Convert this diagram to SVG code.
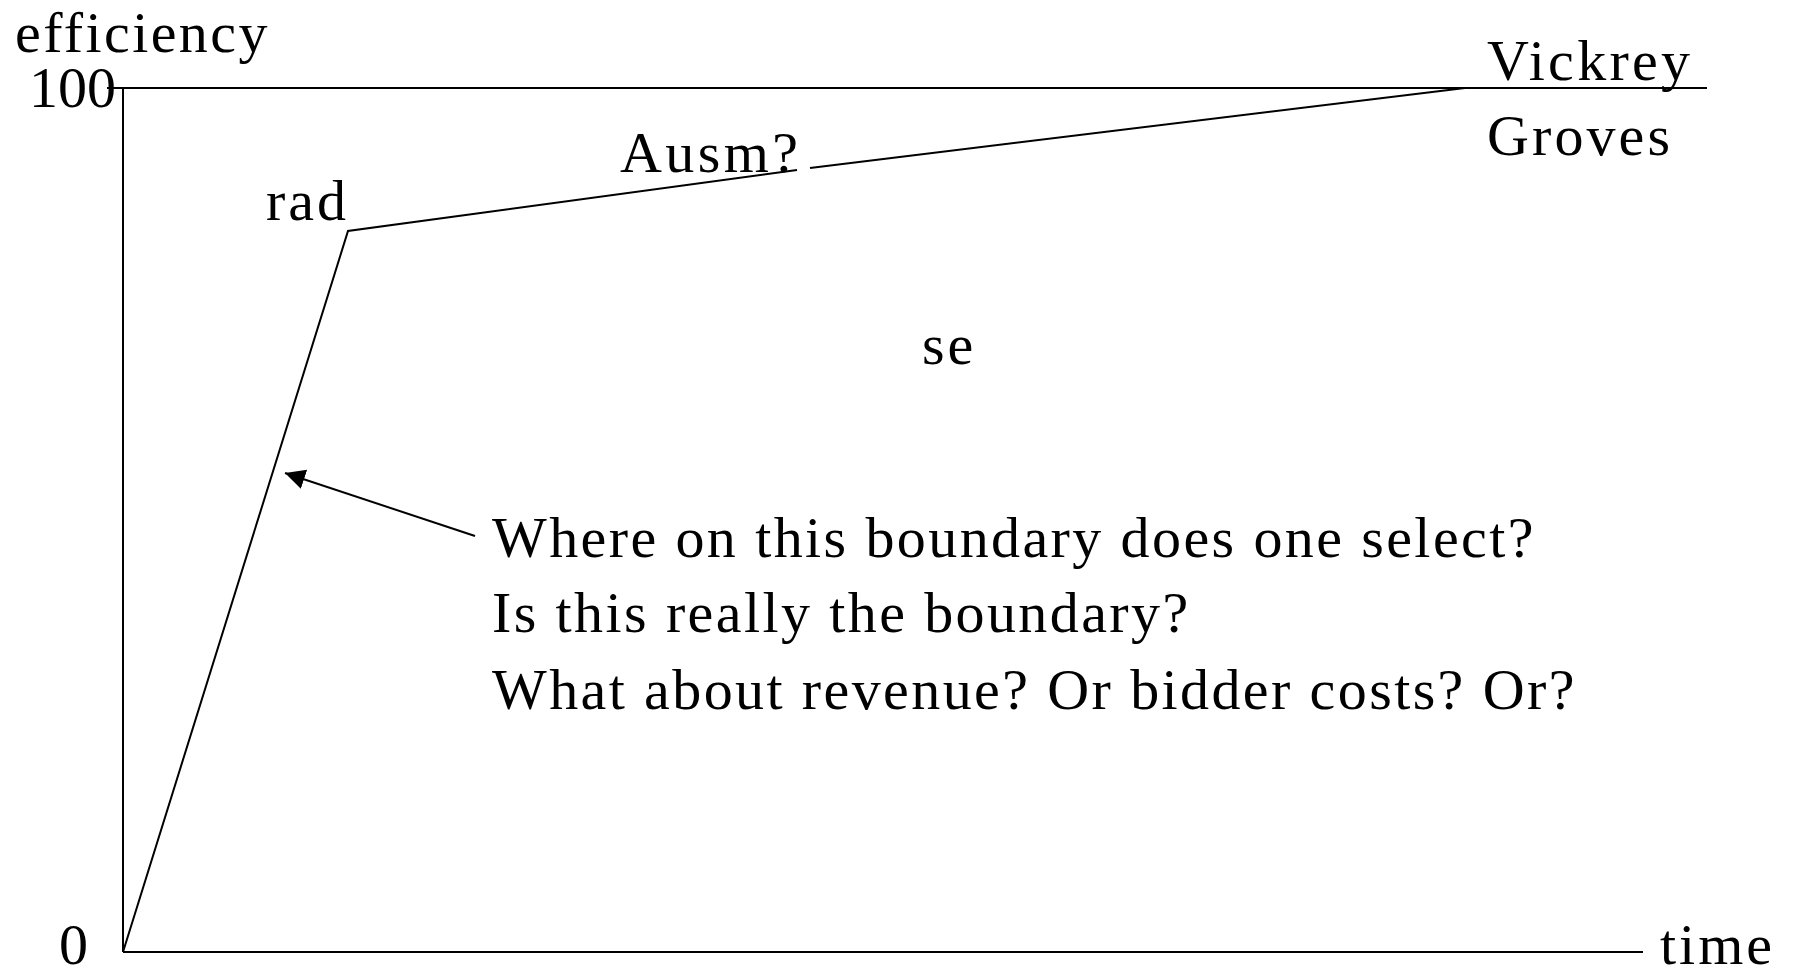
<svg xmlns="http://www.w3.org/2000/svg" width="1793" height="976" viewBox="0 0 1793 976">
<style>
.t{font-family:"Liberation Serif","Times New Roman",serif;font-size:58px;letter-spacing:3px;fill:#000}
.q{letter-spacing:2.4px}
.ln{stroke:#000;stroke-width:2;fill:none}
</style>
<defs>
<marker id="ah" markerUnits="userSpaceOnUse" markerWidth="24" markerHeight="22" refX="20" refY="10" orient="auto" viewBox="0 0 24 22">
<path d="M0,0 L20,10 L0,20 Z" fill="#000"/>
</marker>
</defs>
<rect width="1793" height="976" fill="#fff"/>
<g id="axes">
<line class="ln" x1="123" y1="88" x2="123" y2="952"/>
<line class="ln" x1="107" y1="88" x2="1707" y2="88"/>
<line class="ln" x1="123" y1="952" x2="1643" y2="952"/>
</g>
<g id="connectors">
<polyline class="ln" points="123,952 348,231 797,170"/>
<line class="ln" x1="810" y1="168" x2="1465" y2="88"/>
<line class="ln" x1="475" y1="536" x2="285" y2="473" marker-end="url(#ah)"/>
</g>
<g id="label-efficiency"><text class="t" x="15" y="52" style="letter-spacing:2.4px">efficiency</text></g>
<g id="label-100"><text class="t" x="29" y="107" style="letter-spacing:0">100</text></g>
<g id="label-0"><text class="t" x="59" y="964">0</text></g>
<g id="label-time"><text class="t" x="1660" y="964">time</text></g>
<g id="label-rad"><text class="t" x="266" y="220">rad</text></g>
<g id="label-ausm"><text class="t" x="620" y="172" style="letter-spacing:3.4px">Ausm?</text></g>
<g id="label-vickrey"><text class="t" x="1487" y="80" style="letter-spacing:3.3px">Vickrey</text></g>
<g id="label-groves"><text class="t" x="1487" y="155" style="letter-spacing:3.1px">Groves</text></g>
<g id="label-se"><text class="t" x="922" y="364">se</text></g>
<g id="questions">
<text class="t q" x="492" y="557">Where on this boundary does one select?</text>
<text class="t q" x="492" y="632">Is this really the boundary?</text>
<text class="t q" x="492" y="709">What about revenue? Or bidder costs? Or?</text>
</g>
</svg>
